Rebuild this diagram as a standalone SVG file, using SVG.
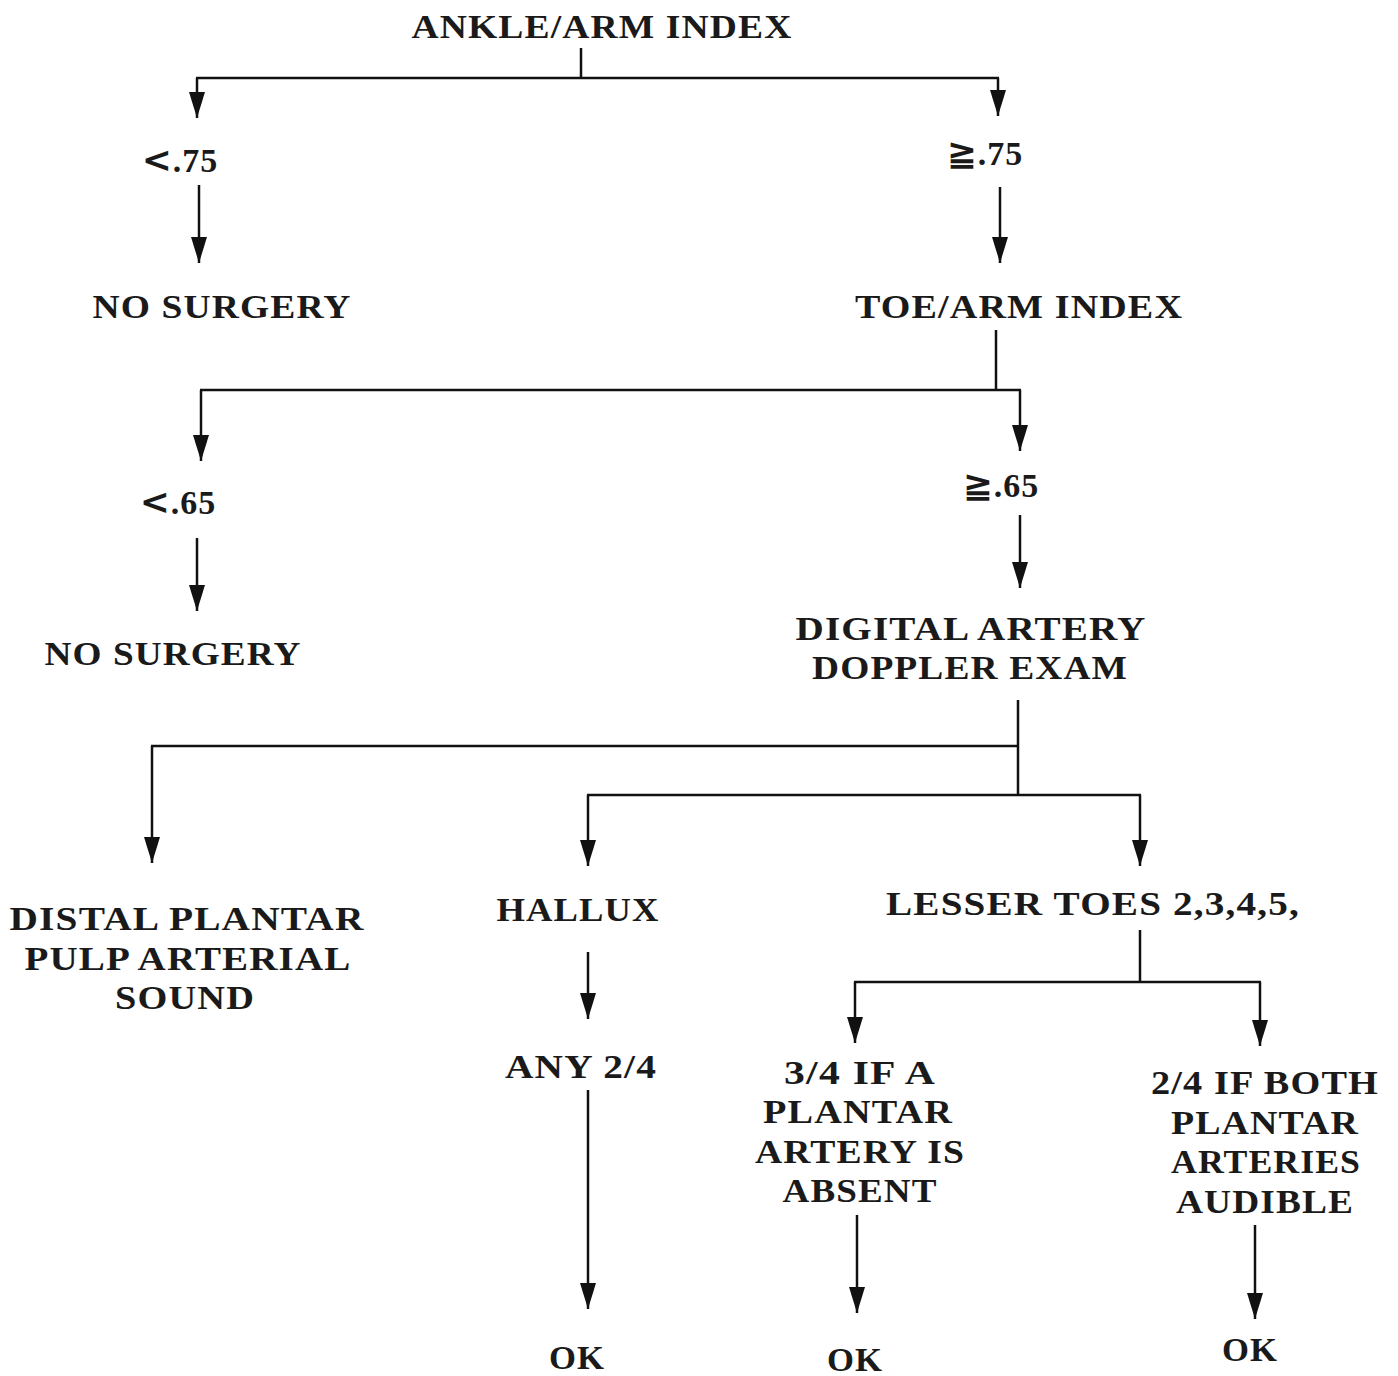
<svg xmlns="http://www.w3.org/2000/svg" width="1398" height="1376" viewBox="0 0 1398 1376">
<defs>
<marker id="ah" viewBox="0 0 26 16" refX="26" refY="8" markerWidth="26" markerHeight="16" markerUnits="userSpaceOnUse" orient="auto">
<path d="M0,0 L26,8 L0,16 Z" fill="#111"/>
</marker>
<style>
text{font-family:"Liberation Serif","Times New Roman",serif;font-size:34px;font-weight:bold;fill:#1a1a1a;text-anchor:middle;letter-spacing:1px}
.sym{font-family:"DejaVu Sans",sans-serif;font-weight:bold;font-size:36px}
.c line{stroke:#111;stroke-width:2.5;fill:none}
.a{marker-end:url(#ah)}
</style>
</defs>
<rect width="1398" height="1376" fill="#fff"/>
<g class="c" id="connectors">
<line x1="581" y1="48" x2="581" y2="78"/>
<line x1="196" y1="78" x2="999" y2="78"/>
<line class="a" x1="197" y1="78" x2="197" y2="118"/>
<line class="a" x1="998" y1="78" x2="998" y2="116"/>
<line class="a" x1="199" y1="185" x2="199" y2="263"/>
<line class="a" x1="1000" y1="187" x2="1000" y2="263"/>
<line x1="996" y1="330" x2="996" y2="390"/>
<line x1="200" y1="390" x2="1021" y2="390"/>
<line class="a" x1="201" y1="390" x2="201" y2="461"/>
<line class="a" x1="1020" y1="390" x2="1020" y2="451"/>
<line class="a" x1="197" y1="538" x2="197" y2="611"/>
<line class="a" x1="1020" y1="515" x2="1020" y2="588"/>
<line x1="1018" y1="700" x2="1018" y2="795"/>
<line x1="151" y1="746" x2="1018" y2="746"/>
<line class="a" x1="152" y1="746" x2="152" y2="863"/>
<line x1="587" y1="795" x2="1141" y2="795"/>
<line class="a" x1="588" y1="795" x2="588" y2="866"/>
<line class="a" x1="1140" y1="795" x2="1140" y2="866"/>
<line class="a" x1="588" y1="952" x2="588" y2="1019"/>
<line x1="1140" y1="930" x2="1140" y2="982"/>
<line x1="854" y1="982" x2="1261" y2="982"/>
<line class="a" x1="855" y1="982" x2="855" y2="1043"/>
<line class="a" x1="1260" y1="982" x2="1260" y2="1046"/>
<line class="a" x1="588" y1="1090" x2="588" y2="1309"/>
<line class="a" x1="857" y1="1215" x2="857" y2="1313"/>
<line class="a" x1="1255" y1="1225" x2="1255" y2="1319"/>
</g>
<g id="n-ankle"><text x="602" y="38" textLength="381" lengthAdjust="spacingAndGlyphs">ANKLE/ARM INDEX</text></g>
<g id="n-lt75"><text x="180" y="172"><tspan class="sym">&lt;</tspan>.75</text></g>
<g id="n-ge75"><text x="985" y="165"><tspan class="sym">≧</tspan>.75</text></g>
<g id="n-nosurg1"><text x="222" y="318" textLength="259" lengthAdjust="spacingAndGlyphs">NO SURGERY</text></g>
<g id="n-toearm"><text x="1019" y="318" textLength="328" lengthAdjust="spacingAndGlyphs">TOE/ARM INDEX</text></g>
<g id="n-lt65"><text x="178" y="514"><tspan class="sym">&lt;</tspan>.65</text></g>
<g id="n-ge65"><text x="1001" y="497"><tspan class="sym">≧</tspan>.65</text></g>
<g id="n-nosurg2"><text x="173" y="665" textLength="257" lengthAdjust="spacingAndGlyphs">NO SURGERY</text></g>
<g id="n-digital">
<text x="971" y="640" textLength="351" lengthAdjust="spacingAndGlyphs">DIGITAL ARTERY</text>
<text x="970" y="679" textLength="316" lengthAdjust="spacingAndGlyphs">DOPPLER EXAM</text>
</g>
<g id="n-distal">
<text x="187" y="930" textLength="355" lengthAdjust="spacingAndGlyphs">DISTAL PLANTAR</text>
<text x="188" y="970" textLength="327" lengthAdjust="spacingAndGlyphs">PULP ARTERIAL</text>
<text x="185" y="1009" textLength="140" lengthAdjust="spacingAndGlyphs">SOUND</text>
</g>
<g id="n-hallux"><text x="578" y="921" textLength="163" lengthAdjust="spacingAndGlyphs">HALLUX</text></g>
<g id="n-lesser"><text x="1093" y="915" textLength="414" lengthAdjust="spacingAndGlyphs">LESSER TOES 2,3,4,5,</text></g>
<g id="n-any"><text x="581" y="1078" textLength="152" lengthAdjust="spacingAndGlyphs">ANY 2/4</text></g>
<g id="n-34">
<text x="860" y="1084" textLength="152" lengthAdjust="spacingAndGlyphs">3/4 IF A</text>
<text x="858" y="1123" textLength="190" lengthAdjust="spacingAndGlyphs">PLANTAR</text>
<text x="860" y="1163" textLength="210" lengthAdjust="spacingAndGlyphs">ARTERY IS</text>
<text x="860" y="1202" textLength="155" lengthAdjust="spacingAndGlyphs">ABSENT</text>
</g>
<g id="n-24">
<text x="1265" y="1094" textLength="228" lengthAdjust="spacingAndGlyphs">2/4 IF BOTH</text>
<text x="1265" y="1134" textLength="188" lengthAdjust="spacingAndGlyphs">PLANTAR</text>
<text x="1266" y="1173" textLength="190" lengthAdjust="spacingAndGlyphs">ARTERIES</text>
<text x="1265" y="1213" textLength="178" lengthAdjust="spacingAndGlyphs">AUDIBLE</text>
</g>
<g id="n-ok1"><text x="577" y="1369" textLength="56" lengthAdjust="spacingAndGlyphs">OK</text></g>
<g id="n-ok2"><text x="855" y="1371" textLength="56" lengthAdjust="spacingAndGlyphs">OK</text></g>
<g id="n-ok3"><text x="1250" y="1361" textLength="56" lengthAdjust="spacingAndGlyphs">OK</text></g>
</svg>
